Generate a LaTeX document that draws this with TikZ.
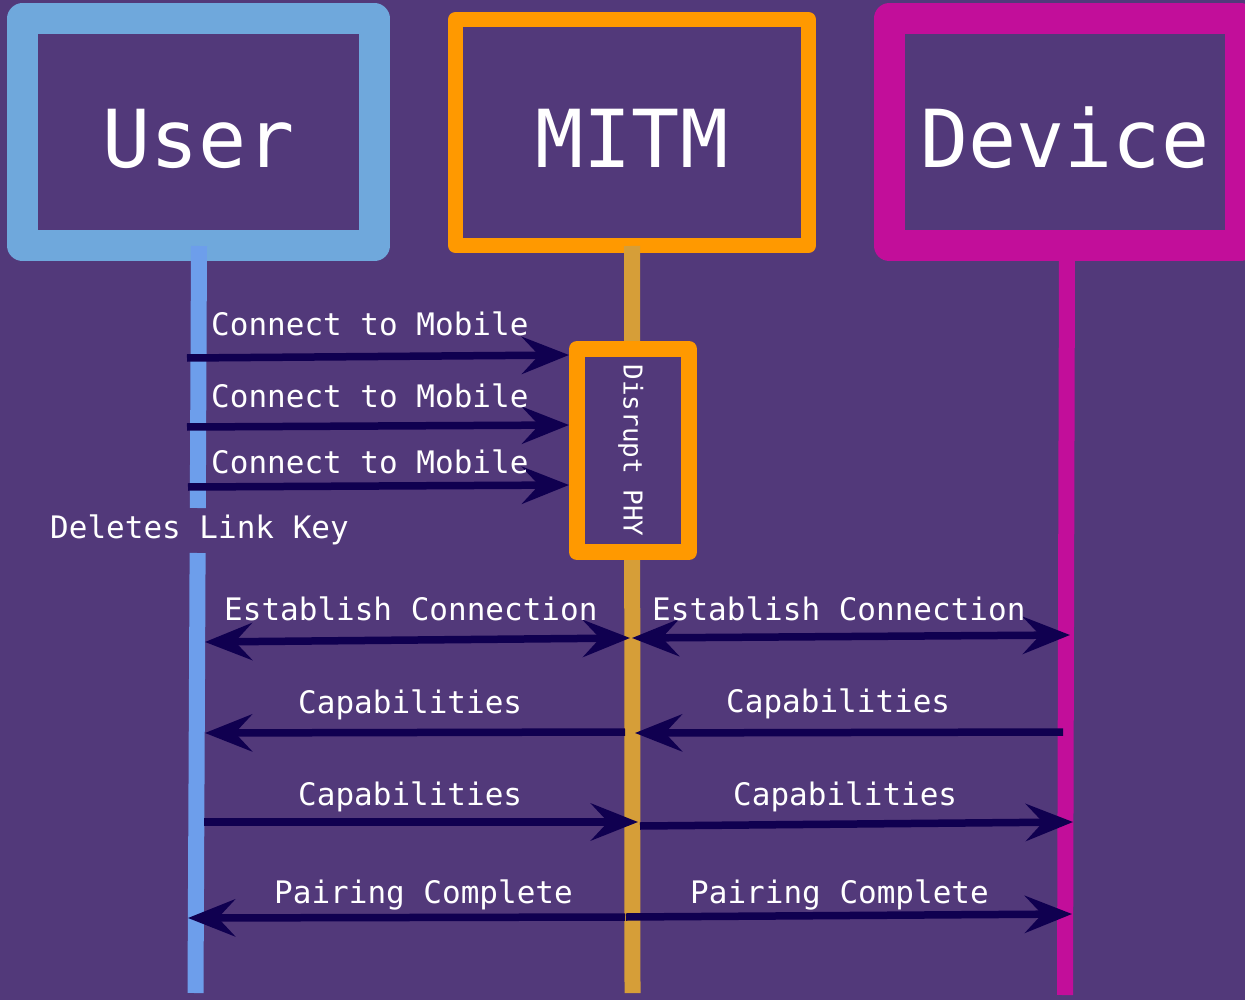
\documentclass[tikz,border=0pt]{standalone}
\usepackage{fontspec}
\usetikzlibrary{arrows.meta}
\newfontfamily\diagfont{DejaVu Sans Mono}
\definecolor{bgpurple}{RGB}{82,57,122}
\definecolor{userbox}{RGB}{111,168,220}
\definecolor{userline}{RGB}{109,158,235}
\definecolor{mitmbox}{RGB}{255,153,0}
\definecolor{mitmline}{RGB}{214,158,56}
\definecolor{devbox}{RGB}{194,14,154}
\definecolor{arrowcol}{RGB}{16,0,80}
\begin{document}
\begin{tikzpicture}[x=1pt,y=-1pt,
  hdr/.style={draw, line join=round, text=white, inner sep=0pt,
    font=\diagfont\fontsize{80}{80}\selectfont, text height=70pt, text depth=0pt},
  lifeline/.style={line width=16pt, line cap=butt},
  msg/.style={draw=arrowcol, line width=7.5pt,
    -{Stealth[length=47pt,width=37pt,inset=17pt]}},
  dmsg/.style={draw=arrowcol, line width=7.5pt,
    {Stealth[length=47pt,width=37pt,inset=17pt]}-{Stealth[length=47pt,width=37pt,inset=17pt]}},
  lbl/.style={anchor=base west, inner sep=0pt, text=white,
    font=\diagfont\fontsize{31}{31}\selectfont}]
\fill[bgpurple] (0,0) rectangle (1245,1000);
\useasboundingbox (0,0) rectangle (1245,1000);

% header boxes
\node[hdr, draw=userbox, line width=31pt, minimum width=352pt, minimum height=226.5pt]
  (user) at (198.5,132.25) {User};
\node[hdr, draw=mitmbox, line width=15pt, minimum width=353pt, minimum height=226pt]
  (mitm) at (632,132.5) {MITM};
\node[hdr, draw=devbox, line width=31pt, minimum width=351.5pt, minimum height=226.5pt]
  (device) at (1064.75,132.25) {Device};

% lifeline coordinates
\coordinate (uTop) at (199,246);
\coordinate (uGapA) at (197.8,508);
\coordinate (uGapB) at (197.6,553);
\coordinate (uBot) at (195.5,993);
\coordinate (mTop) at (632,246);
\coordinate (mBot) at (632.5,993);
\coordinate (dTop) at (1067,250);
\coordinate (dBot) at (1065,995);

\draw[lifeline, userline] (uTop) -- (uGapA);
\draw[lifeline, userline] (uGapB) -- (uBot);
\draw[lifeline, mitmline] (mTop) -- (mBot);
\draw[lifeline, devbox] (dTop) -- (dBot);

% disrupt box
\node[draw=mitmbox, fill=bgpurple, line width=16pt, line join=round, rotate=-90,
  minimum width=203pt, minimum height=112pt, inner sep=0pt, text=white,
  font=\diagfont\fontsize{26}{26}\selectfont, text height=19pt, text depth=0pt]
  (disrupt) at (633,450.5) {Disrupt PHY};

% arrow end coordinates
\coordinate (a1s) at (187,358);  \coordinate (a1e) at (569,355);
\coordinate (a2s) at (187,427);  \coordinate (a2e) at (569,425);
\coordinate (a3s) at (188,487);  \coordinate (a3e) at (569,485);
\coordinate (e1l) at (205,642);  \coordinate (e1r) at (630,638);
\coordinate (e2l) at (632,638);  \coordinate (e2r) at (1070,635);
\coordinate (c1s) at (625,732);  \coordinate (c1e) at (205,733);
\coordinate (c2s) at (1063,732); \coordinate (c2e) at (635,733);
\coordinate (c3s) at (204,822);  \coordinate (c3e) at (638,822);
\coordinate (c4s) at (640,826);  \coordinate (c4e) at (1073,822);
\coordinate (p1s) at (625,917);  \coordinate (p1e) at (188,918);
\coordinate (p2s) at (626,917);  \coordinate (p2e) at (1072,914);

\draw[msg] (a1s) -- (a1e);
\draw[msg] (a2s) -- (a2e);
\draw[msg] (a3s) -- (a3e);
\draw[dmsg] (e1l) -- (e1r);
\draw[dmsg] (e2l) -- (e2r);
\draw[msg] (c1s) -- (c1e);
\draw[msg] (c2s) -- (c2e);
\draw[msg] (c3s) -- (c3e);
\draw[msg] (c4s) -- (c4e);
\draw[msg] (p1s) -- (p1e);
\draw[msg] (p2s) -- (p2e);

% labels
\node[lbl] (l1) at (211,335) {Connect to Mobile};
\node[lbl] (l2) at (211,407) {Connect to Mobile};
\node[lbl] (l3) at (211,473) {Connect to Mobile};
\node[lbl] (l4) at (50,538) {Deletes Link Key};
\node[lbl] (l5) at (224,620) {Establish Connection};
\node[lbl] (l6) at (652,620) {Establish Connection};
\node[lbl] (l7) at (298,713) {Capabilities};
\node[lbl] (l8) at (726,712) {Capabilities};
\node[lbl] (l9) at (298,805) {Capabilities};
\node[lbl] (l10) at (733,805) {Capabilities};
\node[lbl] (l11) at (274,903) {Pairing Complete};
\node[lbl] (l12) at (690,903) {Pairing Complete};
\end{tikzpicture}
\end{document}
